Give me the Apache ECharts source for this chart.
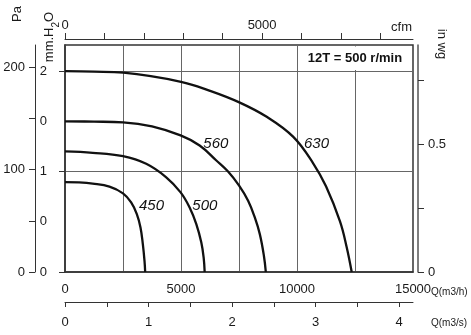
<!DOCTYPE html>
<html><head><meta charset="utf-8">
<script src="https://cdn.jsdelivr.net/npm/echarts@6/dist/echarts.min.js"></script>
<style>html,body{margin:0;padding:0;background:#fff}#c{width:471px;height:335px}</style>
</head><body><div id="c"></div>
<script>
// ---- data (Q in m3/h, pressure in the left "mm.H2O" scale units) ----
const flow450  = [0, 600, 1195, 1916, 2500, 2851, 3096, 3254, 3355, 3427, 3456];
const press450 = [0.895, 0.892, 0.88, 0.85, 0.783, 0.693, 0.577, 0.443, 0.277, 0.11, 0];
const flow500  = [0, 1195, 2500, 3500, 4364, 4983, 5372, 5660, 5876, 5977, 6020];
const press500 = [1.20, 1.187, 1.153, 1.077, 0.943, 0.793, 0.643, 0.477, 0.293, 0.143, 0];
const flow560  = [0, 1250, 2500, 3750, 4983, 5804, 6524, 7028, 7505, 7893, 8181, 8397, 8570, 8656];
const press560 = [1.50, 1.497, 1.49, 1.45, 1.36, 1.26, 1.11, 1.00, 0.86, 0.71, 0.543, 0.377, 0.167, 0];
const flow630  = [0, 1250, 2513, 5000, 6250, 7513, 8694, 9841, 10703, 11250, 11853, 12142, 12358];
const press630 = [2.00, 1.995, 1.984, 1.894, 1.804, 1.689, 1.545, 1.345, 1.08, 0.853, 0.504, 0.247, 0];
const curveNames = ['450', '500', '560', '630'];

// ---- tick labels ----
const mmValues = [0, 0.5, 1, 1.5, 2];
const mmLabels = ['0', '0', '1', '0', '2'];
const paTicks = [0, 50, 100, 150, 200];
const paLabels = [0, 100, 200];
const wgTicks = [0, 0.25, 0.5, 0.75];
const wgLabels = [0, 0.5];
const m3hLabels = [0, 5000, 10000, 15000];
const m3sTicks = [0, 0.5, 1, 1.5, 2, 2.5, 3, 3.5, 4];
const m3sLabels = [0, 1, 2, 3, 4];
const cfmTicks = [0, 1000, 2000, 3000, 4000, 5000, 6000, 7000, 8000];
const cfmLabels = [0, 5000];

const FONT = '"Liberation Sans", Arial, Helvetica, sans-serif';
const TXT = '#1a1a1a';
const AX = '#333';
const QMAX = 15000;
const PMAX = 2.26;          // main scale top
const PA_PER_UNIT = 98.0665;
const PA_PER_INWG = 249.089;
const M3H_PER_CFM = 1.69901;

const zip = (a, b) => a.map((v, i) => [v, b[i]]);
const lbl = (extra) => Object.assign({fontSize: 13, color: TXT, fontFamily: FONT}, extra);

function curve(name, flow, press, labelAt) {
  return {
    type: 'line', name: name, xAxisIndex: 0, yAxisIndex: 0,
    data: zip(flow, press), smooth: 0.4, symbol: 'none', showSymbol: false,
    lineStyle: {color: '#111', width: 2.3}, z: 3, animation: false,
    markPoint: {
      symbol: 'circle', symbolSize: 0, animation: false,
      data: [{coord: labelAt, value: name}],
      label: {show: true, position: 'right', distance: 0, formatter: name,
              fontStyle: 'italic', fontSize: 15, color: '#111', fontFamily: FONT}
    }
  };
}

const option = {
  animation: false,
  backgroundColor: '#fff',
  grid: {left: 65, right: 58, top: 45, bottom: 63, show: true, borderColor: AX, borderWidth: 1.5,
         backgroundColor: 'transparent', containLabel: false, outerBoundsMode: 'none'},
  xAxis: [
    { type: 'value', position: 'bottom', min: 0, max: QMAX, interval: 2500,
      splitLine: {show: true, lineStyle: {color: '#666', width: 1}},
      axisLine: {show: true, onZero: false, lineStyle: {color: AX, width: 1.5}},
      axisTick: {show: false},
      axisLabel: lbl({customValues: m3hLabels, margin: 11, formatter: v => String(v)}) },
    { type: 'value', position: 'bottom', offset: 30, min: 0, max: QMAX / 3600,
      splitLine: {show: false},
      axisLine: {show: true, onZero: false, lineStyle: {color: AX, width: 1}},
      axisTick: {show: true, customValues: m3sTicks, length: 5, lineStyle: {color: AX}},
      axisLabel: lbl({customValues: m3sLabels, margin: 14, formatter: v => String(v)}) },
    { type: 'value', position: 'top', offset: 6, min: 0, max: QMAX / M3H_PER_CFM,
      splitLine: {show: false},
      axisLine: {show: true, onZero: false, lineStyle: {color: AX, width: 1}},
      axisTick: {show: true, customValues: cfmTicks, length: 6, lineStyle: {color: AX}},
      axisLabel: lbl({customValues: cfmLabels, margin: 7, formatter: v => String(v)}) }
  ],
  yAxis: [
    { type: 'value', position: 'left', min: 0, max: PMAX, interval: 0.5,
      splitLine: {show: true, lineStyle: {color: '#666', width: 1}},
      axisLine: {show: true, onZero: false, lineStyle: {color: AX, width: 1.5}},
      axisTick: {show: true, customValues: [0, 1, 2], length: 6, lineStyle: {color: AX}},
      axisLabel: lbl({customValues: mmValues, margin: 18, formatter: v => mmLabels[mmValues.indexOf(v)]}) },
    { type: 'value', position: 'left', offset: 30, min: 0, max: PMAX * PA_PER_UNIT,
      splitLine: {show: false},
      axisLine: {show: true, onZero: false, lineStyle: {color: AX, width: 1}},
      axisTick: {show: true, customValues: paTicks, length: 6, lineStyle: {color: AX}},
      axisLabel: lbl({customValues: paLabels, margin: 10, formatter: v => String(v)}) },
    { type: 'value', position: 'right', offset: 5, min: 0, max: PMAX * PA_PER_UNIT / PA_PER_INWG,
      splitLine: {show: false},
      axisLine: {show: true, onZero: false, lineStyle: {color: '#555', width: 1.5}},
      axisTick: {show: true, customValues: wgTicks, length: 6, lineStyle: {color: AX}},
      axisLabel: lbl({customValues: wgLabels, margin: 10, formatter: v => String(v)}) }
  ],
  series: [
    curve(curveNames[0], flow450, press450, [3190, 0.66]),
    curve(curveNames[1], flow500, press500, [5487, 0.66]),
    curve(curveNames[2], flow560, press560, [5962, 1.28]),
    curve(curveNames[3], flow630, press630, [10302, 1.28])
  ],
  graphic: [
    {type: 'rect', z: 1, shape: {x: 299, y: 46.5, width: 112.5, height: 23.5}, style: {fill: '#fff'}},
    {type: 'text', z: 5, x: 355, y: 58,
     style: {text: '12T = 500 r/min', font: 'bold 13px ' + FONT, fill: '#111',
             align: 'center', verticalAlign: 'middle', textAlign: 'center', textVerticalAlign: 'middle'}},
    {type: 'text', z: 5, x: 17, y: 14, rotation: Math.PI / 2,
     style: {text: 'Pa', font: '13px ' + FONT, fill: TXT,
             align: 'center', verticalAlign: 'middle', textAlign: 'center', textVerticalAlign: 'middle'}},
    {type: 'text', z: 5, x: 52, y: 37, rotation: Math.PI / 2,
     style: {text: '{a|mm.H}{s|2}{a|O}', fill: TXT,
             align: 'center', verticalAlign: 'middle', textAlign: 'center', textVerticalAlign: 'middle',
             rich: {a: {fontSize: 13, fontFamily: FONT, fill: TXT, color: TXT, lineHeight: 18, verticalAlign: 'top'},
                    s: {fontSize: 10, fontFamily: FONT, fill: TXT, color: TXT, lineHeight: 18, verticalAlign: 'bottom'}}}},
    {type: 'text', z: 5, x: 442, y: 44, rotation: -Math.PI / 2,
     style: {text: 'in wg', font: '13px ' + FONT, fill: TXT,
             align: 'center', verticalAlign: 'middle', textAlign: 'center', textVerticalAlign: 'middle'}},
    {type: 'text', z: 5, x: 412, y: 27,
     style: {text: 'cfm', font: '13px ' + FONT, fill: TXT,
             align: 'right', verticalAlign: 'middle', textAlign: 'right', textVerticalAlign: 'middle'}},
    {type: 'text', z: 5, x: 431, y: 292,
     style: {text: 'Q(m3/h)', font: '10px ' + FONT, fill: TXT,
             align: 'left', verticalAlign: 'middle', textAlign: 'left', textVerticalAlign: 'middle'}},
    {type: 'text', z: 5, x: 431, y: 323,
     style: {text: 'Q(m3/s)', font: '10px ' + FONT, fill: TXT,
             align: 'left', verticalAlign: 'middle', textAlign: 'left', textVerticalAlign: 'middle'}}
  ]
};
const chart = echarts.init(document.getElementById('c'), null, {renderer: 'canvas'});
chart.setOption(option);
</script>
</body></html>
